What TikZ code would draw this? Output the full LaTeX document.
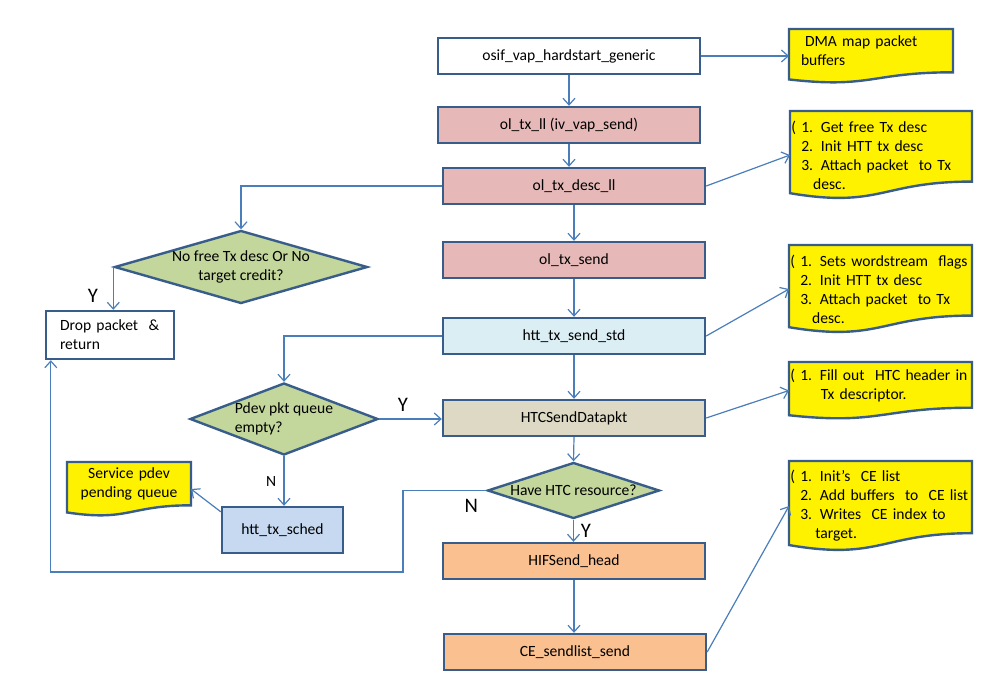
\documentclass[tikz,border=0pt]{standalone}
\usepackage{fontspec}
\setmainfont{Carlito}
\usetikzlibrary{shapes.geometric,arrows.meta,calc,backgrounds,positioning}
\definecolor{edgeblue}{HTML}{385D8A}
\definecolor{linkblue}{HTML}{4A7EBB}
\definecolor{rosebox}{HTML}{E6B9B8}
\definecolor{paleblue}{HTML}{DBEEF4}
\definecolor{tanbox}{HTML}{DDD9C4}
\definecolor{olivebox}{HTML}{C3D69B}
\definecolor{schedblue}{HTML}{C6D9F1}
\definecolor{peachbox}{HTML}{FAC090}
\newcommand{\flowfont}{\fontsize{11.7}{14.3}\selectfont}
\newcommand{\wavydoc}[1]{\path[memoshape] (#1.north west) -- (#1.north east)
  -- ($(#1.north east)!0.802!(#1.south east)$)
  .. controls ($(#1.north)!0.802!(#1.south)$) and ($(#1.north)!1.108!(#1.south)$)
  .. ($(#1.north west)!0.934!(#1.south west)$) -- cycle;}

\begin{document}
\begin{tikzpicture}[x=0.75pt,y=-0.75pt,
    proc/.style={draw=edgeblue,line width=1.8pt,rectangle,minimum width=196.5pt,minimum height=27pt,font=\flowfont},
    decision/.style={draw=edgeblue,line width=1.8pt,diamond,fill=olivebox,inner sep=-2pt,font=\flowfont,align=center},
    memo/.style={anchor=north west,inner xsep=1pt,inner ysep=0pt,outer sep=0pt,align=left,font=\flowfont},
    memoshape/.style={draw=edgeblue,line width=1.8pt,fill=yellow},
    conn/.style={draw=linkblue,line width=0.9pt,-{Straight Barb[length=5pt,width=9pt]}},
    yn/.style={font=\fontsize{15.5}{18}\selectfont,inner sep=2pt}]
  \useasboundingbox (0,0) rectangle (1006,682);

  % main column
  \node[proc] (osif) at (569,56) {osif\_vap\_hardstart\_generic};
  \node[proc,fill=rosebox] (txll) at (569,125) {ol\_tx\_ll (iv\_vap\_send)};
  \node[proc,fill=rosebox] (txdesc) at (574,186) {ol\_tx\_desc\_ll};
  \node[proc,fill=rosebox] (txsend) at (574,260) {ol\_tx\_send};
  \node[proc,fill=paleblue] (httstd) at (574,336) {htt\_tx\_send\_std};
  \node[proc,fill=tanbox] (htcsend) at (574,418) {HTCSendDatapkt};
  \node[decision,shape aspect=3.07,minimum width=129pt,minimum height=42pt] (htcres) at (573.5,490.5) {Have HTC resource?};
  \node[proc,fill=peachbox] (hifsend) at (574,561) {HIFSend\_head};
  \node[proc,fill=peachbox] (cesend) at (575,652) {CE\_sendlist\_send};

  % left side
  \node[decision,shape aspect=3.47,minimum width=189.75pt,minimum height=54.75pt] (nodesc) at (241,267) {No free Tx desc Or No\\target credit?};
  \node[proc,minimum width=96pt,minimum height=36pt,text width=75pt,align=left] (drop) at (110,335) {Drop packet \ \&\\return};
  \node[decision,shape aspect=2.61,minimum width=141pt,minimum height=54pt,align=left] (pdevq) at (284,419) {Pdev pkt queue\\empty?};
  \node[proc,fill=schedblue,minimum width=90.75pt,minimum height=34.5pt] (sched) at (282.5,530) {htt\_tx\_sched};

  % notes
  \node[memo,minimum width=123pt,minimum height=40.5pt,text width=105pt,inner xsep=9pt,text depth=23pt] (dmanote) at (789,29) {\hspace*{3pt}DMA map packet\\buffers};
  \node[memo,minimum width=136.5pt,minimum height=66pt,text width=134.5pt] (descnote) at (790,111)
    {( 1. Get free Tx desc\\\phantom{(} 2. Init HTT tx desc\\\phantom{(} 3. Attach packet \ to Tx\\\hspace*{1.4em}desc.};
  \node[memo,minimum width=137.25pt,minimum height=66pt,text width=135.25pt] (stdnote) at (789,245)
    {( 1. Sets wordstream \ flags\\\phantom{(} 2. Init HTT tx desc\\\phantom{(} 3. Attach packet \ to Tx\\\hspace*{1.4em}desc.};
  \node[memo,minimum width=137.25pt,minimum height=42.75pt,text width=135.25pt,text depth=23pt] (htcnote) at (789,362)
    {( 1. Fill out \ HTC header in\\\hspace*{1.95em}Tx descriptor.};
  \node[memo,minimum width=137.25pt,minimum height=67.5pt,text width=135.25pt] (cenote) at (789,461)
    {( 1. Init’s \ CE list\\\phantom{(} 2. Add buffers \ to \ CE list\\\phantom{(} 3. Writes \ CE index to\\\hspace*{1.6em}target.};
  \node[memo,minimum width=93pt,minimum height=40.5pt,text width=85pt,inner xsep=4pt,align=center,text depth=24pt] (pendnote) at (67,462) {Service pdev\\pending queue};

  \begin{scope}[on background layer]
    \fill[white] (0,0) rectangle (1006,682);
    \wavydoc{dmanote}
    \wavydoc{descnote}
    \wavydoc{stdnote}
    \wavydoc{htcnote}
    \wavydoc{cenote}
    \wavydoc{pendnote}
  \end{scope}

  % connectors
  \draw[conn] (osif.south) -- (txll.north);
  \draw[conn] (txll.south) -- (txll.south |- txdesc.north);
  \draw[conn] (txdesc.south) -- (txsend.north);
  \draw[conn] (txsend.south) -- (httstd.north);
  \draw[conn] (httstd.south) -- (htcsend.north);
  \draw[conn] (htcsend.south) -- (htcres.north);
  \draw[conn] (htcres.south) -- (htcres.south |- hifsend.north) node[yn,right=3pt,midway] (yhif) {Y};
  \draw[conn] (hifsend.south) -- (hifsend.south |- cesend.north);

  \draw[conn] (osif.east) -- (osif.east -| dmanote.west);
  \draw[conn] (txdesc.east) -- (descnote.west);
  \draw[conn] (httstd.east) -- (stdnote.west);
  \draw[conn] (htcsend.east) -- (htcnote.west);
  \draw[conn] (cesend.east) -- (cenote.west);

  \draw[conn] (txdesc.west) -| (nodesc.north);
  \draw[conn] (nodesc.west) -- (nodesc.west |- drop.north) node[yn,left=9pt,pos=0.68] (ydrop) {Y};
  \draw[conn] (httstd.west) -| (pdevq.north);
  \draw[conn] (pdevq.east) -- (pdevq.east -| htcsend.west) node[yn,above=3pt,pos=0.38] (ypdev) {Y};
  \draw[conn] (pdevq.south) -- (pdevq.south |- sched.north) node[left=2pt,midway,font=\flowfont] (npdev) {N};
  \draw[conn] ([yshift=-4.5pt]sched.north west) -- (pendnote.east);
  \coordinate (nback) at (403,572);
  \draw[conn] (htcres.west) node[yn,below left=5.5pt] (nres) {N} -| (nback) -| ([xshift=4.5pt]drop.south west);
\end{tikzpicture}
\end{document}
